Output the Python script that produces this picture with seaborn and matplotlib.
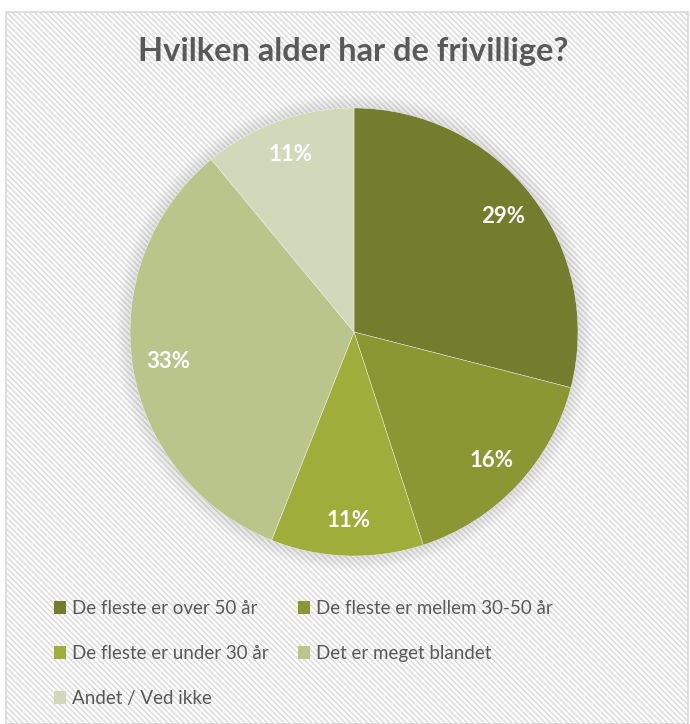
import matplotlib
matplotlib.use("Agg")
import matplotlib.pyplot as plt
import seaborn as sns
from matplotlib.patches import Patch, Rectangle, Circle

# data
categories = [
    "De fleste er over 50 år",
    "De fleste er mellem 30-50 år",
    "De fleste er under 30 år",
    "Det er meget blandet",
    "Andet / Ved ikke",
]
shares = [29, 16, 11, 33, 11]
colors = ["#727D2D", "#8A9733", "#9FAE3B", "#BAC58C", "#D2D9BA"]
title = "Hvilken alder har de frivillige?"

sns.set_theme(style="white")
plt.rcParams["font.family"] = ["Lato", "DejaVu Sans"]
plt.rcParams["hatch.linewidth"] = 1.0
plt.rcParams["hatch.color"] = "#f3f3f3"

W, H = 690, 724
fig = plt.figure(figsize=(W / 100, H / 100), dpi=100)
fig.patch.set_facecolor("white")

# chart area with faint diagonal pattern and grey border
bg = Rectangle((6 / W, 0), 682 / W, (H - 12) / H, transform=fig.transFigure,
               facecolor="white", edgecolor="#d9d9d9", linewidth=1.2,
               hatch="\\" * 6, zorder=-5)
fig.patches.append(bg)

cx, cy, r = 354, H - 332, 224
ax = fig.add_axes([(cx - r) / W, (cy - r) / H, 2 * r / W, 2 * r / H])
ax.set_facecolor("none")
ax.set_zorder(1)

# soft shadow round the pie
for i in range(8):
    ax.add_patch(Circle((0, 0), 1.0 + 0.008 * (i + 1), color="#9a9a9a",
                        alpha=0.035, lw=0, zorder=0, clip_on=False))

wedges, texts, autotexts = ax.pie(
    shares, colors=colors, startangle=90, counterclock=False, radius=1,
    autopct="%1.0f%%", pctdistance=0.84,
    wedgeprops=dict(linewidth=0.3, edgecolor="#f4f4f4"),
    textprops=dict(color="white", fontsize=16, fontweight="bold"),
)
for w in wedges:
    w.set_zorder(2)
for t in autotexts:
    t.set_zorder(3)
ax.set_xlim(-1, 1)
ax.set_ylim(-1, 1)
ax.set_aspect("equal")
ax.axis("off")

fig.text(353 / W, 1 - 52 / H, title, ha="center", va="center",
         fontsize=23.5, fontweight="bold", color="#595959")

handles = [Patch(facecolor=c, edgecolor="none") for c in colors]
order = [0, 2, 4, 1, 3]
leg = fig.legend([handles[i] for i in order], [categories[i] for i in order],
                 ncol=2, loc="upper left", bbox_to_anchor=(37 / W, 1 - 583 / H),
                 frameon=False, fontsize=13.5, labelcolor="#595959",
                 handlelength=0.65, handleheight=0.65, handletextpad=0.3,
                 columnspacing=1.57, labelspacing=1.5)

fig.savefig("out.png", dpi=100)
